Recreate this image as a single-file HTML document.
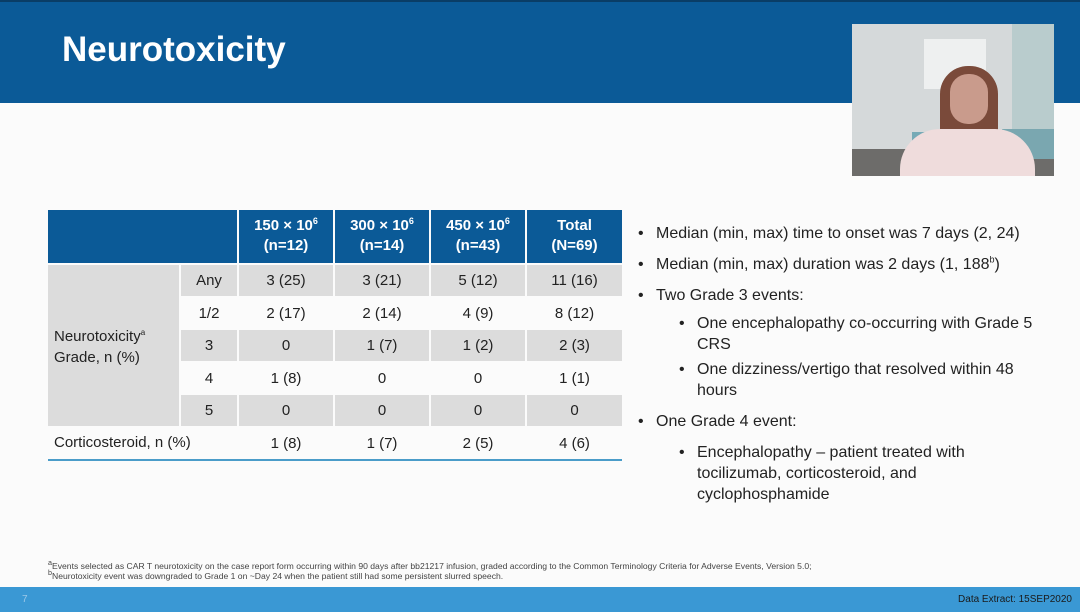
<!DOCTYPE html>
<html><head><meta charset="utf-8"><style>
*{margin:0;padding:0;box-sizing:border-box}
body{width:1080px;height:612px;position:relative;overflow:hidden;background:#fbfbfb;font-family:"Liberation Sans",sans-serif;color:#222}
sup{line-height:0;vertical-align:super}
.hdr{position:absolute;left:0;top:0;width:1080px;height:103px;background:#0b5a97;border-top:2px solid #0a3d66}
.title{position:absolute;left:62px;top:30px;color:#fff;font-weight:bold;font-size:35px}
.cam{position:absolute;left:852px;top:24px;width:202px;height:152px;background:#c9d3d6;overflow:hidden}
.t{position:absolute;font-size:15px}
.c{position:absolute;display:flex;align-items:center;justify-content:center;font-size:15px;text-align:center}
.h{position:absolute;background:#0b5a97;color:#fff;font-weight:bold;line-height:20px;font-size:15px;text-align:center;padding-top:6px;white-space:nowrap}
.g{background:#dcdcdc}
.w{background:#fbfbfb}
.b{position:absolute;font-size:16px;color:#222;line-height:21px;white-space:nowrap}
.foot{position:absolute;left:0;top:587px;width:1080px;height:25px;background:#3a98d4}
.fn{position:absolute;left:48px;font-size:8.6px;color:#444;white-space:nowrap}
</style></head><body>
<div class="hdr"></div>
<div class="title">Neurotoxicity</div>
<div class="cam">
 <div style="position:absolute;left:0;top:0;width:160px;height:130px;background:#d5d9da"></div>
 <div style="position:absolute;left:160px;top:0;width:42px;height:130px;background:#b9cccd"></div>
 <div style="position:absolute;left:72px;top:15px;width:62px;height:50px;background:#eef0f0"></div>
 <div style="position:absolute;left:0;top:125px;width:202px;height:27px;background:#6d6c6a"></div>
 <div style="position:absolute;left:60px;top:108px;width:40px;height:30px;background:#76aab6"></div>
 <div style="position:absolute;left:150px;top:105px;width:52px;height:30px;background:#7aa7b0"></div>
 <div style="position:absolute;left:88px;top:42px;width:58px;height:110px;background:#7a4a3a;border-radius:28px 28px 0 0"></div>
 <div style="position:absolute;left:98px;top:50px;width:38px;height:50px;background:#c99b8c;border-radius:18px"></div>
 <div style="position:absolute;left:48px;top:105px;width:135px;height:60px;background:#efdcdc;border-radius:40px 40px 0 0"></div>
</div>

<div class="h" style="left:48px;top:210px;width:189px;height:53px"></div>
<div class="h" style="left:239px;top:210px;width:94px;height:53px">150 × 10<sup style="font-size:9px">6</sup><br>(n=12)</div>
<div class="h" style="left:335px;top:210px;width:94px;height:53px">300 × 10<sup style="font-size:9px">6</sup><br>(n=14)</div>
<div class="h" style="left:431px;top:210px;width:94px;height:53px">450 × 10<sup style="font-size:9px">6</sup><br>(n=43)</div>
<div class="h" style="left:527px;top:210px;width:95px;height:53px">Total<br>(N=69)</div>
<div class="g" style="position:absolute;left:48px;top:265px;width:131px;height:161px"></div>
<div class="t" style="left:54px;top:326px;line-height:21px">Neurotoxicity<sup style="font-size:8px">a</sup><br>Grade, n (%)</div>

<div class="c g" style="left:181px;top:265px;width:56px;height:31px">Any</div>
<div class="c g" style="left:239px;top:265px;width:94px;height:31px">3 (25)</div>
<div class="c g" style="left:335px;top:265px;width:94px;height:31px">3 (21)</div>
<div class="c g" style="left:431px;top:265px;width:94px;height:31px">5 (12)</div>
<div class="c g" style="left:527px;top:265px;width:95px;height:31px">11 (16)</div>

<div class="c w" style="left:181px;top:297px;width:56px;height:32px">1/2</div>
<div class="c" style="left:239px;top:297px;width:94px;height:32px">2 (17)</div>
<div class="c" style="left:335px;top:297px;width:94px;height:32px">2 (14)</div>
<div class="c" style="left:431px;top:297px;width:94px;height:32px">4 (9)</div>
<div class="c" style="left:527px;top:297px;width:95px;height:32px">8 (12)</div>

<div class="c g" style="left:181px;top:330px;width:56px;height:31px">3</div>
<div class="c g" style="left:239px;top:330px;width:94px;height:31px">0</div>
<div class="c g" style="left:335px;top:330px;width:94px;height:31px">1 (7)</div>
<div class="c g" style="left:431px;top:330px;width:94px;height:31px">1 (2)</div>
<div class="c g" style="left:527px;top:330px;width:95px;height:31px">2 (3)</div>

<div class="c w" style="left:181px;top:362px;width:56px;height:32px">4</div>
<div class="c" style="left:239px;top:362px;width:94px;height:32px">1 (8)</div>
<div class="c" style="left:335px;top:362px;width:94px;height:32px">0</div>
<div class="c" style="left:431px;top:362px;width:94px;height:32px">0</div>
<div class="c" style="left:527px;top:362px;width:95px;height:32px">1 (1)</div>

<div class="c g" style="left:181px;top:395px;width:56px;height:31px">5</div>
<div class="c g" style="left:239px;top:395px;width:94px;height:31px">0</div>
<div class="c g" style="left:335px;top:395px;width:94px;height:31px">0</div>
<div class="c g" style="left:431px;top:395px;width:94px;height:31px">0</div>
<div class="c g" style="left:527px;top:395px;width:95px;height:31px">0</div>

<div class="t" style="left:54px;top:434px">Corticosteroid, n (%)</div>
<div class="c" style="left:239px;top:428px;width:94px;height:31px">1 (8)</div>
<div class="c" style="left:335px;top:428px;width:94px;height:31px">1 (7)</div>
<div class="c" style="left:431px;top:428px;width:94px;height:31px">2 (5)</div>
<div class="c" style="left:527px;top:428px;width:95px;height:31px">4 (6)</div>
<div style="position:absolute;left:48px;top:459px;width:574px;height:2px;background:#4a9cc9"></div>

<div class="b" style="left:638px;top:223px">•</div><div class="b" style="left:656px;top:223px">Median (min, max) time to onset was 7 days (2, 24)</div>
<div class="b" style="left:638px;top:254px">•</div><div class="b" style="left:656px;top:254px">Median (min, max) duration was 2 days (1, 188<sup style="font-size:9px">b</sup>)</div>
<div class="b" style="left:638px;top:285px">•</div><div class="b" style="left:656px;top:285px">Two Grade 3 events:</div>
<div class="b" style="left:679px;top:313px">•</div><div class="b" style="left:697px;top:313px">One encephalopathy co-occurring with Grade 5<br>CRS</div>
<div class="b" style="left:679px;top:359px">•</div><div class="b" style="left:697px;top:359px">One dizziness/vertigo that resolved within 48<br>hours</div>
<div class="b" style="left:638px;top:411px">•</div><div class="b" style="left:656px;top:411px">One Grade 4 event:</div>
<div class="b" style="left:679px;top:442px">•</div><div class="b" style="left:697px;top:442px">Encephalopathy – patient treated with<br>tocilizumab, corticosteroid, and<br>cyclophosphamide</div>

<div class="fn" style="top:561px"><sup>a</sup>Events selected as CAR T neurotoxicity on the case report form occurring within 90 days after bb21217 infusion, graded according to the Common Terminology Criteria for Adverse Events, Version 5.0;</div>
<div class="fn" style="top:571px"><sup>b</sup>Neurotoxicity event was downgraded to Grade 1 on ~Day 24 when the patient still had some persistent slurred speech.</div>
<div class="foot"></div>
<div style="position:absolute;left:22px;top:594px;font-size:10px;color:#9cc8e8">7</div>
<div style="position:absolute;right:8px;top:594px;font-size:10px;color:#1a1a1a">Data Extract: 15SEP2020</div>
</body></html>
